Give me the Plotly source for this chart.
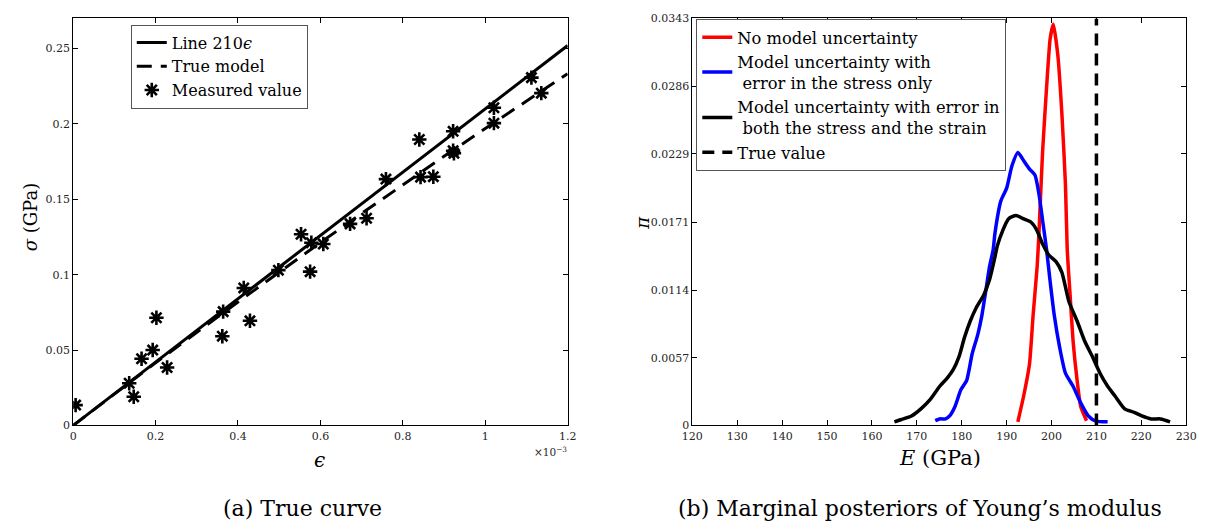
import plotly.graph_objects as go

# ---------------- Left panel data (strain in 1e-3 units, stress in GPa) ----------------
line_eps = [0.0, 1.2]
line_sigma = [0.0, 0.252]

true_eps = [0.0, 0.2, 0.4, 0.5, 0.6, 0.7, 0.8, 0.9, 1.0, 1.1, 1.2]
true_sigma = [0.0, 0.0415, 0.0819, 0.1017, 0.1213, 0.1406, 0.1597, 0.1785, 0.1970, 0.2153, 0.2333]

meas_eps = [0.006, 0.136, 0.147, 0.166, 0.193, 0.202, 0.228, 0.362, 0.364, 0.414, 0.429,
            0.498, 0.553, 0.575, 0.578, 0.607, 0.672, 0.712, 0.759, 0.840, 0.843, 0.874,
            0.922, 0.922, 0.924, 1.021, 1.021, 1.112, 1.136]
meas_sigma = [0.0135, 0.028, 0.019, 0.0442, 0.050, 0.0714, 0.0384, 0.0592, 0.0755, 0.0912, 0.0694,
              0.103, 0.1268, 0.102, 0.1212, 0.1203, 0.1337, 0.1374, 0.1634, 0.1897, 0.1647, 0.165,
              0.1951, 0.1822, 0.1805, 0.2107, 0.2005, 0.2307, 0.2204]

left_xticks = [0, 0.2, 0.4, 0.6, 0.8, 1.0, 1.2]
left_xticktext = ["0", "0.2", "0.4", "0.6", "0.8", "1", "1.2"]
left_yticks = [0, 0.05, 0.10, 0.15, 0.20, 0.25]
left_yticktext = ["0", "0.05", "0.1", "0.15", "0.2", "0.25"]

# ---------------- Right panel data (E in GPa, density) ----------------
red_E = [192.5, 193.8, 195.1, 195.9, 196.8, 197.2, 198.0, 198.9, 199.7, 200.4, 201.4, 202.3,
         203.1, 203.5, 204.1, 204.8, 205.7, 206.5, 207.8]
red_pi = [0.0003, 0.0025, 0.0052, 0.0093, 0.0134, 0.0162, 0.0230, 0.0285, 0.0326, 0.0338, 0.0312,
          0.0263, 0.0203, 0.0148, 0.0112, 0.0071, 0.0038, 0.0016, 0.0004]

blue_E = [174.1, 175.1, 176.4, 177.3, 178.5, 179.8, 181.1, 182.3, 183.6, 184.5, 185.3, 186.2,
          187.0, 187.4, 188.7, 190.0, 191.2, 192.5, 193.8, 195.1, 196.3, 197.2, 198.0, 198.9,
          199.7, 200.6, 201.8, 203.1, 204.8, 206.5, 208.2, 209.9, 212.5]
blue_pi = [0.0004, 0.00055, 0.00055, 0.0008, 0.0016, 0.0030, 0.0038, 0.0060, 0.0077, 0.0093,
           0.0112, 0.0134, 0.0148, 0.0162, 0.0189, 0.0200, 0.0219, 0.0230, 0.0223, 0.0216,
           0.0211, 0.0195, 0.0173, 0.0148, 0.0121, 0.0093, 0.0066, 0.0044, 0.0033, 0.0019,
           0.0008, 0.00036, 0.0003]

black_E = [165.0, 166.6, 168.8, 170.9, 173.0, 175.1, 176.8, 178.1, 179.4, 180.6, 181.9, 183.2,
           184.9, 186.2, 187.4, 187.9, 189.1, 190.4, 192.1, 193.8, 195.5, 196.8, 198.0, 199.3,
           201.0, 202.3, 203.9, 205.7, 207.4, 209.1, 210.8, 212.5, 214.1, 216.3, 218.4, 220.1,
           222.2, 224.3, 226.4]
black_pi = [0.0003, 0.0005, 0.0008, 0.0014, 0.0022, 0.0033, 0.0040, 0.0047, 0.0058, 0.0074,
            0.0088, 0.0099, 0.0110, 0.0123, 0.0142, 0.0151, 0.0164, 0.0174, 0.0177, 0.0174,
            0.0171, 0.0164, 0.0153, 0.0144, 0.0138, 0.0129, 0.0104, 0.0088, 0.0071, 0.0058,
            0.0044, 0.0033, 0.0025, 0.0014, 0.0011, 0.0008, 0.00055, 0.00055, 0.0003]

true_E = [210, 210]
true_pi = [0, 0.0343]

right_xticks = [120, 130, 140, 150, 160, 170, 180, 190, 200, 210, 220, 230]
right_yticks = [0, 0.0057, 0.0114, 0.0171, 0.0229, 0.0286, 0.0343]
right_yticktext = ["0", "0.0057", "0.0114", "0.0171", "0.0229", "0.0286", "0.0343"]

FONT = "DejaVu Serif"
W, H = 1209, 529

fig = go.Figure()

# Left panel
fig.add_trace(go.Scatter(x=line_eps, y=line_sigma, mode="lines", name="Line 210<i>ϵ</i>",
                         line=dict(color="black", width=3), xaxis="x", yaxis="y", legend="legend"))
fig.add_trace(go.Scatter(x=true_eps, y=true_sigma, mode="lines", name="True model",
                         line=dict(color="black", width=3, dash="15px,9px"), xaxis="x", yaxis="y",
                         legend="legend"))
fig.add_trace(go.Scatter(x=meas_eps, y=meas_sigma, mode="markers", name="Measured value",
                         marker=dict(symbol="asterisk-open", size=12, color="black",
                                     line=dict(color="black", width=2.6)),
                         xaxis="x", yaxis="y", legend="legend"))

# Right panel
fig.add_trace(go.Scatter(x=red_E, y=red_pi, mode="lines", name="No model uncertainty",
                         line=dict(color="#ff0000", width=3.5, shape="spline", smoothing=0.5),
                         xaxis="x2", yaxis="y2", legend="legend2"))
fig.add_trace(go.Scatter(x=blue_E, y=blue_pi, mode="lines",
                         name="Model uncertainty with<br>\u00a0error in the stress only",
                         line=dict(color="#0000ff", width=3.5, shape="spline", smoothing=0.6),
                         xaxis="x2", yaxis="y2", legend="legend2"))
fig.add_trace(go.Scatter(x=black_E, y=black_pi, mode="lines",
                         name="Model uncertainty with error in<br>\u00a0both the stress and the strain",
                         line=dict(color="black", width=3.5, shape="spline", smoothing=0.6),
                         xaxis="x2", yaxis="y2", legend="legend2"))
fig.add_trace(go.Scatter(x=true_E, y=true_pi, mode="lines", name="True value",
                         line=dict(color="black", width=3.5, dash="12px,8px"),
                         xaxis="x2", yaxis="y2", legend="legend2"))

def px2x(p):
    return p / W

def px2y(p):
    return (H - p) / H

axis_common = dict(showline=True, linecolor="black", linewidth=1, mirror="ticks",
                   ticks="inside", ticklen=5, tickcolor="black", showgrid=False, zeroline=False,
                   tickfont=dict(family=FONT, size=11, color="#262626"))

fig.update_layout(
    width=W, height=H,
    margin=dict(l=0, r=0, t=0, b=0),
    paper_bgcolor="white", plot_bgcolor="white",
    font=dict(family=FONT, color="black"),
    xaxis=dict(domain=[px2x(63.3), px2x(567)], range=[0, 1.2], tickvals=left_xticks,
               ticktext=left_xticktext, anchor="y", **axis_common),
    yaxis=dict(domain=[px2y(430), px2y(12.7)], range=[0, 0.27], tickvals=left_yticks,
               ticktext=left_yticktext, anchor="x", **axis_common),
    xaxis2=dict(domain=[px2x(694), px2x(1197)], range=[120, 230], tickvals=right_xticks,
                anchor="y2", **axis_common),
    yaxis2=dict(domain=[px2y(430), px2y(12.7)], range=[0, 0.0343], tickvals=right_yticks,
                ticktext=right_yticktext, anchor="x2", **axis_common),
    legend=dict(x=px2x(122), y=px2y(19), xanchor="left", yanchor="top",
                bgcolor="white", bordercolor="#555555", borderwidth=1,
                font=dict(family=FONT, size=16, color="black"), tracegroupgap=0,
                itemwidth=30),
    legend2=dict(x=px2x(698), y=px2y(13.5), xanchor="left", yanchor="top",
                 bgcolor="white", bordercolor="#555555", borderwidth=1,
                 font=dict(family=FONT, size=16.3, color="black"), tracegroupgap=0,
                 itemwidth=30, valign="middle"),
    showlegend=True,
)

annotations = [
    dict(text="<i>ϵ</i>", x=px2x(314), y=px2y(465), font=dict(family=FONT, size=20)),
    dict(text="×10<sup>−3</sup>", x=px2x(550), y=px2y(457), font=dict(family=FONT, size=10.5, color="#262626")),
    dict(text="<i>σ</i> (GPa)", x=px2x(20), y=px2y(217), textangle=-90, font=dict(family=FONT, size=18)),
    dict(text="<i>E</i> (GPa)", x=px2x(946), y=px2y(463), font=dict(family=FONT, size=21)),
    dict(text="<i>π</i>", x=px2x(643), y=px2y(222), textangle=-90, font=dict(family=FONT, size=18)),
    dict(text="(a) True curve", x=px2x(297), y=px2y(515), font=dict(family=FONT, size=22)),
    dict(text="(b) Marginal posteriors of Young’s modulus", x=px2x(926), y=px2y(515),
         font=dict(family=FONT, size=22)),
]
for a in annotations:
    a.update(xref="paper", yref="paper", showarrow=False, xanchor="center", yanchor="middle")
fig.update_layout(annotations=annotations)

fig.write_html("out.html")
